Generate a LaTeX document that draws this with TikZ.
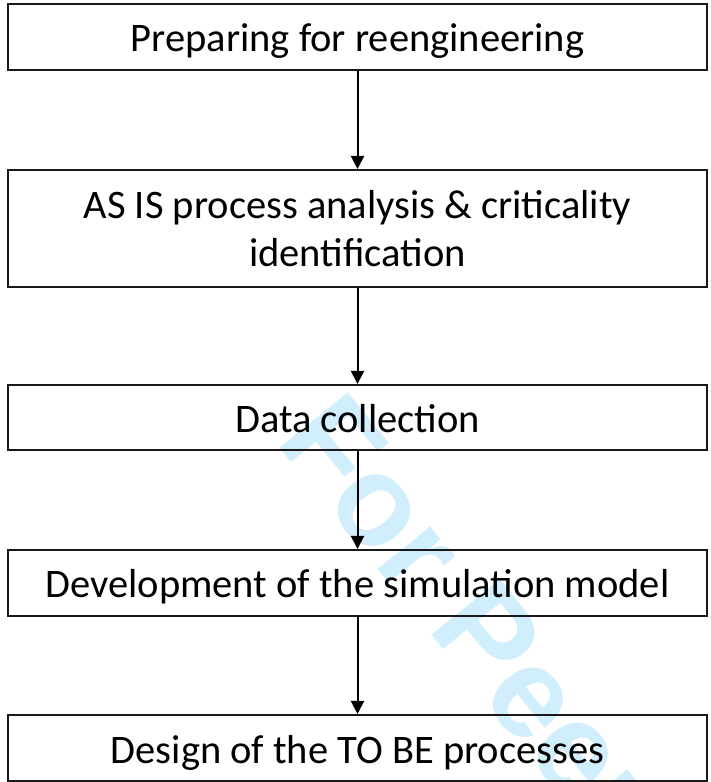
\documentclass[tikz,border=0pt]{standalone}
\usepackage{fontspec}
\setmainfont{Carlito}
\newfontfamily\wmfont{Liberation Sans}
\usetikzlibrary{arrows.meta}
\definecolor{wmblue}{RGB}{208,238,252}
\definecolor{edge}{RGB}{25,25,25}
\begin{document}
\begin{tikzpicture}[x=1pt,y=1pt,
  stepbox/.style={draw=edge, line width=2pt, minimum width=699pt, inner sep=0pt,
    font=\fontsize{40.5}{48}\selectfont, align=center, text=black,
    text height=30pt, text depth=0pt},
  flow/.style={draw=black, line width=2pt, -{Triangle[length=13pt,width=13pt]}}]
\useasboundingbox (0,0) rectangle (710,782);
\fill[white] (0,0) rectangle (710,782);
% watermark
\node[font=\wmfont\bfseries\fontsize{128}{128}\selectfont, text=wmblue,
  rotate=-51, anchor=base west, inner sep=0pt] (wm) at (274,{782-441}) {For Peer Review};
% boxes
\node[stepbox, minimum height=66pt] (b1) at (357.5,{782-37}) {Preparing for reengineering};
\node[stepbox, minimum height=117pt, text height=76pt] (b2) at (357.5,{782-228.5}) {AS IS process analysis \& criticality\\identification};
\node[stepbox, minimum height=65pt] (b3) at (357.5,{782-417.5}) {Data collection};
\node[stepbox, minimum height=66pt] (b4) at (357.5,{782-583}) {Development of the simulation model};
\node[stepbox, minimum height=66pt] (b5) at (357.5,{782-748}) {Design of the TO BE processes};
% arrows
\draw[flow] (b1.south) -- (b2.north);
\draw[flow] (b2.south) -- (b3.north);
\draw[flow] (b3.south) -- (b4.north);
\draw[flow] (b4.south) -- (b5.north);
\end{tikzpicture}
\end{document}
